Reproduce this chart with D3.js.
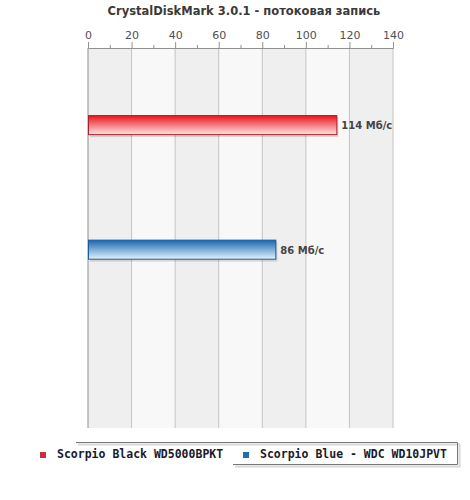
<!DOCTYPE html>
<html>
<head>
<meta charset="utf-8">
<script src="https://cdn.jsdelivr.net/npm/d3@7"></script>
<style>
  body { margin: 0; background: #fff; }
  svg { display: block; }
</style>
</head>
<body>
<svg id="chart" width="470" height="500"></svg>
<script>
const series = ["Scorpio Black WD5000BPKT", "Scorpio Blue - WDC WD10JPVT"];
const values = [114, 86];
const valueLabels = ["114 Мб/с", "86 Мб/с"];
const ticks = [0, 20, 40, 60, 80, 100, 120, 140];
const minorTicks = [10, 30, 50, 70, 90, 110, 130];
const title = "CrystalDiskMark 3.0.1 - потоковая запись";

const colors = [
  { top: "#e8141c", bottom: "#ffe4e4", stroke: "#a8202c", legend: "#c8303c" },
  { top: "#1667b0", bottom: "#e4f2ff", stroke: "#1d5b98", legend: "#1e6cb4" }
];

const margin = { left: 88, top: 48, right: 77, bottom: 72 };
const width = 470, height = 500;
const plotW = width - margin.left - margin.right,
    plotH = height - margin.top - margin.bottom;

const svg = d3.select("#chart");
const defs = svg.append("defs");
colors.forEach((c, i) => {
  const g = defs.append("linearGradient")
      .attr("id", "grad" + i)
      .attr("x1", 0).attr("y1", 0).attr("x2", 0).attr("y2", 1);
  g.append("stop").attr("offset", "0%").attr("stop-color", c.top);
  g.append("stop").attr("offset", "100%").attr("stop-color", c.bottom);
});

svg.append("text")
    .attr("x", 244)
    .attr("y", 15)
    .attr("text-anchor", "middle")
    .attr("font-family", "DejaVu Sans, sans-serif")
    .attr("font-weight", "bold")
    .attr("font-size", 11.5)
    .attr("fill", "#3a3a3a")
    .text(title);

const g = svg.append("g")
    .attr("transform", `translate(${margin.left}, ${margin.top})`);

const x = d3.scaleLinear().domain([0, 140]).range([0, plotW]);
const y = d3.scaleBand().domain(series).range([0, plotH])
    .paddingInner(0.839).paddingOuter(0.945).align(0.285);

// alternating bands
g.selectAll("rect.band")
  .data(d3.pairs(ticks))
  .join("rect")
    .attr("class", "band")
    .attr("x", d => x(d[0]))
    .attr("width", d => x(d[1]) - x(d[0]))
    .attr("y", 0)
    .attr("height", plotH)
    .attr("fill", (d, i) => i % 2 === 0 ? "#efefef" : "#f8f8f8");

// grid lines
g.selectAll("line.grid")
  .data(ticks)
  .join("line")
    .attr("class", "grid")
    .attr("x1", d => x(d)).attr("x2", d => x(d))
    .attr("y1", 0).attr("y2", plotH)
    .attr("stroke", (d, i) => i === 0 ? "#909090" : "#c4c4c4")
    .attr("stroke-width", 1);

// top axis
const axis = g.append("g")
    .call(d3.axisTop(x).tickValues(ticks).tickSize(6).tickPadding(3).tickFormat(d3.format("d")));
axis.select(".domain").attr("stroke", "#909090");
axis.selectAll(".tick line").attr("stroke", "#909090");
axis.selectAll(".tick text")
    .attr("font-family", "DejaVu Sans, sans-serif")
    .attr("font-size", 11)
    .attr("fill", "#505050");

g.append("g")
    .call(d3.axisTop(x).tickValues(minorTicks).tickSize(3).tickFormat(""))
    .call(a => a.select(".domain").remove())
    .selectAll(".tick line").attr("stroke", "#909090");

// bar shadows
g.selectAll("rect.shadow")
  .data(values)
  .join("rect")
    .attr("class", "shadow")
    .attr("x", x(0) + 2)
    .attr("y", (d, i) => y(series[i]) + 2)
    .attr("width", d => x(d) - x(0))
    .attr("height", y.bandwidth())
    .attr("fill", "#000")
    .attr("opacity", 0.12);

// bars
g.selectAll("rect.bar")
  .data(values)
  .join("rect")
    .attr("class", "bar")
    .attr("x", x(0) + 0.5)
    .attr("y", (d, i) => y(series[i]) + 0.5)
    .attr("width", d => x(d) - x(0))
    .attr("height", y.bandwidth() - 1)
    .attr("fill", (d, i) => `url(#grad${i})`)
    .attr("stroke", (d, i) => colors[i].stroke)
    .attr("stroke-width", 1);

g.selectAll("text.val")
  .data(values)
  .join("text")
    .attr("class", "val")
    .attr("x", d => x(d) + 5)
    .attr("y", (d, i) => y(series[i]) + y.bandwidth() / 2 + 4)
    .attr("font-family", "DejaVu Sans, sans-serif")
    .attr("font-weight", "bold")
    .attr("font-size", 10)
    .attr("fill", "#444")
    .text((d, i) => valueLabels[i]);

// legend
const legY = 442;
svg.append("path")
    .attr("d", `M78,${legY + 2.5}H459.5V${legY + 24.5}H235`)
    .attr("fill", "none")
    .attr("stroke", "#d8d8d8")
    .attr("stroke-width", 2);
svg.append("path")
    .attr("d", `M76,${legY + 0.5}H457.5V${legY + 22.5}H233`)
    .attr("fill", "none")
    .attr("stroke", "#777")
    .attr("stroke-width", 1);

const legX = [40, 243];
const leg = svg.selectAll("g.leg")
  .data(series)
  .join("g")
    .attr("class", "leg")
    .attr("transform", (d, i) => `translate(${legX[i]}, ${legY})`);
leg.append("rect")
    .attr("x", 0).attr("y", 10)
    .attr("width", 6).attr("height", 6)
    .attr("fill", (d, i) => colors[i].legend);
leg.append("text")
    .attr("x", 17)
    .attr("y", 16)
    .attr("font-family", "DejaVu Sans Mono, monospace")
    .attr("font-weight", "bold")
    .attr("font-size", 11.5)
    .attr("fill", "#1a1a2a")
    .text(d => d);
</script>
</body>
</html>
